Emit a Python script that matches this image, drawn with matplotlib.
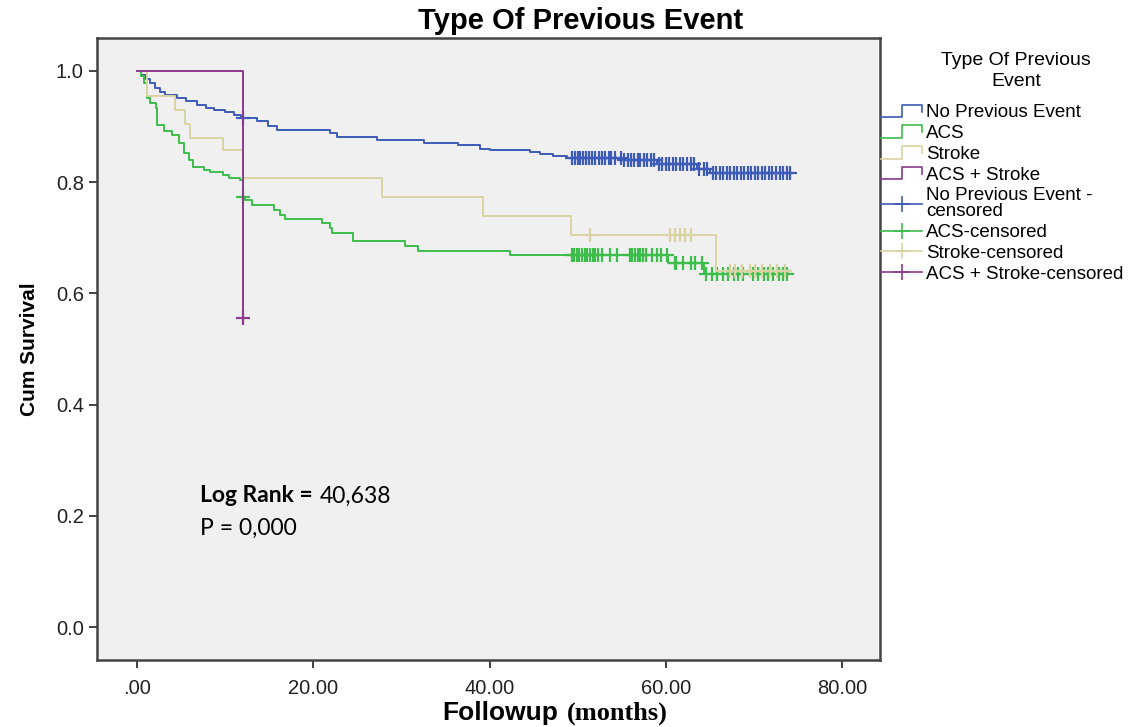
import numpy as np
import matplotlib
matplotlib.use("Agg")
import matplotlib.pyplot as plt
from matplotlib.lines import Line2D
from matplotlib.legend_handler import HandlerBase

plt.rcParams['font.family'] = ['Liberation Sans', 'DejaVu Sans']

# Kaplan-Meier step data per group: drop times, survival after each drop,
# last follow-up time and censoring times (months)
none_t = [0, 0.4, 1.0, 1.5, 2.0, 2.6, 3.2, 4.5, 5.5, 6.8, 7.8, 8.7, 10.0, 11.0, 11.8,
          13.6, 14.8, 15.9, 21.9, 22.7, 27.2, 32.5, 36.4, 38.9, 40.0, 44.6, 45.7,
          47.2, 48.8, 55.0, 59.0, 63.5, 65.0]
none_s = [1.0, 0.993, 0.985, 0.978, 0.970, 0.962, 0.956, 0.951, 0.945, 0.939, 0.934,
          0.930, 0.926, 0.921, 0.915, 0.909, 0.901, 0.894, 0.888, 0.881, 0.876, 0.870,
          0.866, 0.860, 0.857, 0.854, 0.850, 0.847, 0.843, 0.839, 0.833, 0.824, 0.816]
none_last = 74.1
none_cens = [12.0, 49.4, 49.7, 50.0, 50.3, 50.6, 50.9, 51.3, 51.6, 52.0, 52.4, 52.7,
             53.1, 53.5, 53.8, 54.2, 54.9, 55.3, 55.7, 56.0, 56.4, 56.8, 57.1, 57.5,
             57.9, 58.3, 58.7, 59.2, 59.6, 60.0, 60.4, 60.8, 61.2, 61.6, 62.0, 62.4,
             62.8, 63.2, 63.8, 64.3, 64.7, 65.3, 65.7, 66.1, 66.5, 66.9, 67.3, 67.7,
             68.1, 68.5, 68.9, 69.3, 69.7, 70.1, 70.5, 70.9, 71.3, 71.7, 72.1, 72.5,
             72.9, 73.3, 73.7, 74.1]

acs_t = [0, 0.4, 0.8, 1.1, 1.5, 2.1, 2.3, 3.0, 4.0, 4.7, 5.3, 5.9, 6.4, 7.6, 8.3,
         9.8, 10.4, 11.7, 12.0, 12.3, 13.0, 15.5, 16.2, 16.8, 21.0, 21.9, 22.1, 24.5,
         30.4, 31.9, 42.3, 60.3, 64.3]
acs_s = [1.0, 0.990, 0.978, 0.951, 0.942, 0.933, 0.903, 0.891, 0.885, 0.870, 0.852,
         0.840, 0.828, 0.822, 0.818, 0.813, 0.807, 0.804, 0.774, 0.768, 0.759, 0.750,
         0.741, 0.733, 0.726, 0.717, 0.709, 0.695, 0.686, 0.677, 0.669, 0.654, 0.635]
acs_last = 74.0
acs_cens = [12.0, 49.3, 49.6, 49.9, 50.2, 50.5, 50.8, 51.1, 51.4, 51.7, 52.0, 52.3,
            52.7, 53.7, 54.4, 55.9, 56.2, 56.5, 56.8, 57.1, 57.4, 57.8, 58.4, 59.0,
            59.5, 60.1, 61.0, 61.2, 62.0, 62.8, 63.3, 64.1, 64.6, 65.2, 65.8, 66.5,
            67.1, 67.7, 68.2, 68.8, 69.9, 70.5, 71.1, 71.6, 72.2, 72.8, 73.3, 73.8]

stroke_t = [0, 1.1, 4.35, 5.4, 6.0, 9.8, 12.0, 27.8, 39.3, 49.2, 65.7]
stroke_s = [1.0, 0.954, 0.930, 0.905, 0.879, 0.857, 0.807, 0.774, 0.739, 0.705, 0.641]
stroke_last = 74.0
stroke_cens = [51.4, 60.5, 61.0, 61.6, 62.2, 62.9, 67.3, 67.9, 68.6, 69.6, 70.1,
               70.9, 71.8, 72.6, 73.5]

both_t = [0, 12.0]
both_s = [1.0, 0.556]
both_last = 12.0
both_cens = [12.0]

groups = ['No Previous Event', 'ACS', 'Stroke', 'ACS + Stroke']
cens_labels = ['No Previous Event -\ncensored', 'ACS-censored', 'Stroke-censored',
               'ACS + Stroke-censored']
colors = ['#3d5bb8', '#3cbd4c', '#d9d3a3', '#8b3a8d']

xticks = [0, 20, 40, 60, 80]
xtick_labels = ['.00', '20.00', '40.00', '60.00', '80.00']
yticks = [0.0, 0.2, 0.4, 0.6, 0.8, 1.0]
ytick_labels = ['0.0', '0.2', '0.4', '0.6', '0.8', '1.0']


class StepHandler(HandlerBase):
    def create_artists(self, legend, orig_handle, xdescent, ydescent, width, height,
                       fontsize, trans):
        x0, y0 = -xdescent, -ydescent
        xm = x0 + 0.5 * width
        xs = [x0, xm, xm, x0 + width, x0 + width]
        ys = [y0 + 0.05 * height, y0 + 0.05 * height, y0 + 0.95 * height,
              y0 + 0.95 * height, y0 + 0.45 * height]
        ln = Line2D(xs, ys, color=orig_handle.get_color(), lw=1.2)
        ln.set_transform(trans)
        return [ln]


class CensHandler(HandlerBase):
    def create_artists(self, legend, orig_handle, xdescent, ydescent, width, height,
                       fontsize, trans):
        x0, y0 = -xdescent, -ydescent
        ym = y0 + 0.5 * height
        ln = Line2D([x0, x0 + width], [ym, ym], color=orig_handle.get_color(), lw=1.2)
        mk = Line2D([x0 + 0.5 * width], [ym], ls='none', marker='+', ms=11, mew=1.2,
                    color=orig_handle.get_color())
        ln.set_transform(trans)
        mk.set_transform(trans)
        return [ln, mk]


def km_curve(ax, t, s, last, cens, color):
    xs = list(t) + [last]
    ys = list(s) + [s[-1]]
    ax.step(xs, ys, where='post', color=color, lw=1.4)
    idx = np.searchsorted(t, cens, side='right') - 1
    ax.plot(cens, np.asarray(s)[idx], ls='none', marker='+', ms=10, mew=1.6, color=color)


fig = plt.figure(figsize=(11.48, 7.27), dpi=100)
ax = fig.add_axes([97 / 1148, 1 - 660 / 727, (880 - 97) / 1148, (660 - 38) / 727])
ax.set_facecolor('#f0f0f0')

km_curve(ax, none_t, none_s, none_last, none_cens, colors[0])
km_curve(ax, acs_t, acs_s, acs_last, acs_cens, colors[1])
km_curve(ax, stroke_t, stroke_s, stroke_last, stroke_cens, colors[2])
km_curve(ax, both_t, both_s, both_last, both_cens, colors[3])

ax.set_xlim(-4.55, 84.3)
ax.set_ylim(-0.059, 1.059)
ax.set_xticks(xticks)
ax.set_xticklabels(xtick_labels)
ax.set_yticks(yticks)
ax.set_yticklabels(ytick_labels)
ax.tick_params(direction='out', length=6, width=1.2, labelsize=14.5, colors='#222222')
ax.tick_params(axis='x', pad=8)
for sp in ax.spines.values():
    sp.set_color('#444444')
    sp.set_linewidth(1.8)

ax.set_ylabel('Cum Survival', fontsize=15, fontweight='bold', labelpad=12)
fig.text(581 / 1148, 1 - 21 / 727, 'Type Of Previous Event', ha='center', va='center',
         fontsize=21, fontweight='bold')
fig.text(558 / 1148, 1 - 720 / 727, 'Followup', ha='right', va='baseline',
         fontsize=19, fontweight='bold')
fig.text(567 / 1148, 1 - 720 / 727, '(months)', ha='left', va='baseline',
         fontsize=19, fontweight='bold', family='Liberation Serif')

# log-rank test result
t1 = ax.text(7.15, 0.236, 'Log Rank =', fontsize=16.5, fontweight='bold',
             family=['Lato', 'DejaVu Sans'], va='center')
ax.annotate('40,638', xy=(1, 0), xycoords=t1, xytext=(5, 0), textcoords='offset points',
            va='bottom', fontsize=16.5, family=['Lato', 'DejaVu Sans'])
ax.text(7.15, 0.178, 'P = 0,000', fontsize=16.5, family=['Lato', 'DejaVu Sans'],
        va='center')

# legend: title drawn on its own, entries below
fig.text(1016 / 1148, 1 - 71 / 727, 'Type Of Previous\nEvent', ha='center', va='center',
         multialignment='center', fontsize=14, linespacing=1.25)
step_handles = [Line2D([], [], color=c) for c in colors]
cens_handles = [Line2D([], [], color=c) for c in colors]
hmap = {h: StepHandler() for h in step_handles}
hmap.update({h: CensHandler() for h in cens_handles})
leg = fig.legend(step_handles + cens_handles, groups + cens_labels, handler_map=hmap,
                 loc='upper left', bbox_to_anchor=(881 / 1148, 1 - 104 / 727),
                 frameon=False, fontsize=13.5, handlelength=2.2, handleheight=0.75,
                 handletextpad=0.2, labelspacing=0.18, borderpad=0, borderaxespad=0)
for txt in leg.get_texts():
    txt.set_linespacing(0.95)

fig.savefig('out.png', dpi=100)
